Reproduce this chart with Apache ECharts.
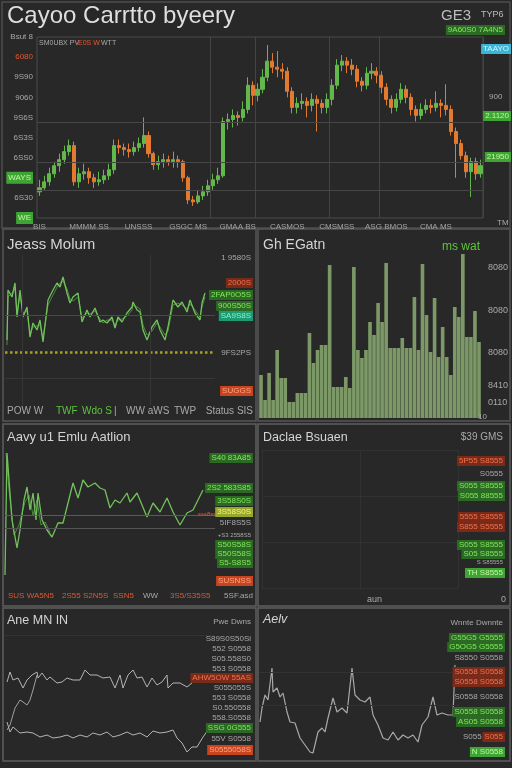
<!DOCTYPE html>
<html><head><meta charset="utf-8">
<script src="https://cdn.jsdelivr.net/npm/echarts/dist/echarts.min.js"></script>
<style>html,body{margin:0;padding:0;background:#282828;}#c{width:512px;height:768px;}</style>
</head><body><div id="c"></div>
<script>
// ---------- DATA ----------
// top candlestick panel: [open, close, low, high]
const candles = [
[26,30,22,38],[30,36,28,42],[36,44,32,50],[44,52,40,56],[52,58,46,64],[58,66,54,72],[66,72,62,78],[72,36,32,76],[36,44,30,50],[44,46,38,54],
[46,40,34,50],[40,36,30,44],[36,38,32,46],[38,42,34,48],[42,48,38,54],[48,72,44,78],[72,70,64,78],[70,68,62,74],[68,66,60,74],[66,70,62,76],
[70,74,66,80],[74,82,70,100],[82,64,60,86],[64,53,48,66],[53,56,48,62],[56,58,50,64],[58,56,52,62],[56,58,50,66],[58,56,50,62],[56,40,36,58],
[40,18,14,42],[18,16,12,22],[16,22,14,28],[22,26,18,32],[26,32,22,38],[32,38,28,44],[38,42,34,50],[42,96,40,100],[96,98,88,104],[98,102,90,108],
[102,100,92,106],[100,108,96,116],[108,132,104,140],[132,122,112,136],[122,128,116,134],[128,140,124,148],[140,156,136,172],[156,150,144,164],[150,148,140,166],[148,146,138,154],
[146,126,120,150],[126,110,104,130],[110,114,104,120],[114,116,108,124],[116,112,100,120],[112,118,106,124],[118,114,86,122],[114,110,104,118],[110,118,104,124],[118,132,112,138],
[132,152,128,158],[152,156,146,162],[156,152,144,160],[152,148,142,158],[148,136,130,152],[136,132,126,140],[132,144,128,150],[144,146,138,154],[146,142,134,150],[142,130,124,146],
[130,118,112,134],[118,110,104,122],[110,118,106,124],[118,128,114,134],[128,120,114,132],[120,108,102,124],[108,102,96,112],[102,108,98,114],[108,112,104,118],[112,110,104,118],
[110,114,106,126],[114,112,100,118],[112,108,102,133],[108,86,82,112],[86,74,40,90],[74,62,58,78],[62,46,40,66],[46,56,21,60],[56,44,38,60],[44,52,40,58]
];
const candleXTicks = ['BIS','MMMM SS','UNSSS','GSGC MS','GMAA BS','CASMOS','CMSMSS','ASG BMOS','CMA MS'];
const priceTicks = ['WE','6S30','WAYS','6SS0','6S3S','9S6S','9060','9S90','6080','Bsut 8'];
const priceLevels = [95, 55, 28];

// "Jeass Molum" line panel
const molumT = [2,3,7,10,12,15,18,22,25,28,32,35,38,43,48,52,55,58,62,65,68,73,77,82,85,90,95,98,102,107,110,113,117,122,127,128,132,135,138,142,147,152,155,160,163,168,173,177,182,185,190,195,197,200];
const molumA = [65,115,108,122,88,115,88,98,68,82,75,85,63,105,115,122,118,128,112,102,108,112,83,95,88,97,83,85,82,88,77,88,83,92,98,103,95,93,75,65,78,85,75,65,78,105,98,103,93,105,92,85,102,112];
const molumB = [60,108,112,116,92,110,92,94,72,78,79,80,67,100,110,118,122,124,116,106,104,108,87,92,91,94,86,82,85,85,80,85,86,89,95,100,98,96,80,70,74,82,78,70,74,100,102,100,96,101,95,88,98,108];
const molumRef = 53;

// "Gh EGatn" bars
const gatnBars = [43,18,45,18,68,40,40,16,16,25,25,25,85,55,68,73,73,153,31,31,31,41,30,151,68,60,68,96,83,115,96,155,70,70,70,80,70,70,121,68,154,103,66,120,61,91,61,43,111,101,164,81,81,107,76];

// "Aavy u1 Emlu Aatlion" line panel
const aavyT = [0,2,7,12,15,19,22,25,28,31,33,37,42,47,53,58,63,68,73,78,83,90,95,100,105,110,115,122,125,132,137,142,148,155,162,168,175,182,188,193,198];
const aavyA = [5,127,60,32,50,80,93,70,87,60,87,60,50,43,57,57,77,97,82,100,93,97,92,90,72,80,77,87,78,87,75,63,77,68,82,68,55,67,70,80,90];
const aavyBT = [1,4,9,14,20,24,28,32,36,40,45];
const aavyB = [127,90,45,55,78,85,65,80,55,58,48];

// "Ane MN IN" lines
const aneTopT = [2,5,8,13,18,22,27,32,33,37,42,45,52,57,62,68,75,80,85,92,98,105,110,115,118,123,128,132,137,142,147,152,157,162,163,168,175,182,187];
const aneTop = [78,88,80,82,72,80,85,88,82,87,80,83,77,78,82,80,80,90,85,85,82,83,72,85,72,85,90,82,83,73,82,75,78,85,72,77,77,73,77];
const aneLowT = [2,5,8,15,22,28,35,42,48,55,62,68,75,82,88,95,102,108,115,122,128,135,142,148,155,162,168,172,177,182,187,192,198,203];
const aneLow = [38,28,33,27,28,27,23,25,22,23,25,22,25,23,27,25,28,23,25,28,25,27,23,29,27,28,30,22,17,8,13,13,23,30];
const aneMidT = [2,5,10,15,18,22,25,28,32];
const aneMid = [30,35,52,60,58,55,60,70,85];

// "Aelv" line
const aelvT = [1,3,6,9,13,14,18,21,24,28,31,36,41,46,51,54,59,63,66,69,74,78,83,88,93,96,101,106,111,114,119,124,129,134,139,144,149,154,159,163,169,174,178,183,189,194,196];
const aelv = [38,52,65,60,92,68,72,63,67,48,38,37,22,15,8,7,28,32,28,42,62,48,52,47,92,65,60,58,63,45,35,22,20,28,20,25,22,25,18,35,43,63,45,47,45,45,95];

// ---------- STYLE / LAYOUT ----------
const priceTickKinds = ['G','n','G','n','n','n','n','n','rt','n'];
const gridCols = [35, 44, 59, 69];
const FONT = 'Liberation Sans';
const K = {
  n:  {color:'#a9a9a9'},
  r:  {color:'#f0734f', backgroundColor:'#7a2a18'},
  R:  {color:'#f8a584', backgroundColor:'#c8441f'},
  g:  {color:'#84e660', backgroundColor:'#2b6a22'},
  G:  {color:'#c4f7a4', backgroundColor:'#3ea534'},
  t:  {color:'#86f3d2', backgroundColor:'#1c9a72'},
  c:  {color:'#d0f7ff', backgroundColor:'#3cb4d6'},
  y:  {color:'#f6f67c', backgroundColor:'#96a82a'},
  gt: {color:'#5cc43c'},
  rt: {color:'#e8552e'}
};
function tagBase(text, pos, top, kind, size) {
  const k = K[kind];
  return Object.assign({text, top, padding:[1,2], backgroundColor:k.backgroundColor||'transparent',
    textStyle:{color:k.color, fontSize:size||8, fontWeight:'normal', fontFamily:FONT}}, pos);
}
const tag  = (text, left, top, kind, size) => tagBase(text, {left}, top, kind, size);
const tagR = (text, right, top, kind, size) => tagBase(text, {right}, top, kind, size);
function head(text, left, top, size, extra) {
  return {text, left, top, padding:0,
    textStyle:Object.assign({color:'#d4d4d4', fontSize:size, fontWeight:'normal', fontFamily:FONT}, extra||{})};
}
const L = 259;   // right edge (x=253) of left-column panels, as css "right"
const RR = 7;    // right edge (x=505) of right-column panels
const titles = [
  head('Cayoo Carrtto byeery', 7, 4, 24, {color:'#dedede'}),
  head('GE3', 441, 8, 15, {color:'#bdbdbd'}),
  head('TYP6', 481, 10, 9, {color:'#bdbdbd'}),
  tagR('9A60S0 7A4N5', RR, 25, 'g', 8),
  tag('SM0UBX PV', 37, 39, 'n', 7), tag('E0S W', 76, 39, 'rt', 7), tag('WTT', 99, 39, 'n', 7),
  tagR('TAAYO', 1, 44, 'c'), tag('900', 487, 92, 'n'),
  tagR('2.1120', 1, 111, 'G'), tagR('21950', 1, 152, 'G'), tag('TM', 495, 218, 'n'),
  // row 2 left
  head('Jeass Molum', 7, 237, 15),
  tagR('1 9580S', L, 253, 'n'), tagR('2000S', L, 278, 'r'), tagR('2FAP0O5S', L, 290, 'g'),
  tagR('900S50S', L, 301, 'g'), tagR('SA9S8S', L, 311, 't'), tagR('9FS2PS', L, 348, 'n'),
  tagR('SUGGS', L, 386, 'R'),
  tag('POW W', 5, 405, 'n', 10), tag('TWF', 54, 405, 'gt', 10), tag('Wdo S', 80, 405, 'gt', 10),
  tag('|', 112, 405, 'n', 10), tag('WW aWS', 124, 405, 'n', 10), tag('TWP', 172, 405, 'n', 10),
  tagR('Status SIS', L - 2, 405, 'n', 10),
  // row 2 right
  head('Gh EGatn', 263, 238, 14),
  tagR('ms wat', 30, 240, 'gt', 12),
  tag('8080', 486, 262, 'n', 9), tag('8080', 486, 305, 'n', 9), tag('8080', 486, 347, 'n', 9),
  tag('8410', 486, 380, 'n', 9), tag('0110', 486, 397, 'n', 9), tag('10', 476, 412, 'n', 8),
  // row 3 left
  head('Aavy u1 Emlu Aatlion', 7, 431, 13),
  tagR('S40 83A85', L, 453, 'g'), tagR('2S2 583S85', L, 483, 'g'), tagR('3S58S0S', L, 496, 'g'),
  tag('sss8ss', 196, 510, 'rt', 6), tagR('3S58S0S', L, 507, 'y'), tagR('5IF8S5S', L, 518, 'n'),
  tagR('+S3 2558S5', L, 531, 'n', 6), tagR('S50S58S', L, 540, 'g'), tagR('S50S58S', L, 549, 'g'),
  tagR('S5-S8S5', L, 558, 'g'), tagR('SUSNSS', L, 576, 'R'),
  tag('SUS WA5N5', 6, 591, 'rt', 8), tag('2S55 S2N5S', 60, 591, 'rt', 8), tag('SSN5', 111, 591, 'rt', 8),
  tag('WW', 141, 591, 'n', 8), tag('3S5/S35S5', 168, 591, 'rt', 8), tagR('5SF.asd', L - 2, 591, 'n', 8),
  // row 3 right
  head('Daclae Bsuaen', 263, 431, 12.5),
  tagR('$39 GMS', RR, 431, 'n', 10),
  tagR('5P55 S8555', RR, 456, 'r'), tagR('S0555', RR, 469, 'n'), tagR('S055 S8555', RR, 481, 'g'),
  tagR('S055 88555', RR, 491, 'g'), tagR('5555 S8555', RR, 512, 'r'), tagR('S855 S5555', RR, 522, 'r'),
  tagR('S055 S8555', RR, 540, 'g'), tagR('S05 S8555', RR, 549, 'g'), tagR('S S85555', RR, 558, 'n', 6),
  tagR('TH S8555', RR, 568, 'G'),
  tag('aun', 365, 594, 'n', 9), tag('0', 499, 594, 'n', 9),
  // row 4 left
  head('Ane MN IN', 7, 614, 12.5),
  tagR('Pwe Dwns', L, 617, 'n'),
  tagR('S89S0S50Si', L, 634, 'n'), tagR('552 S0558', L, 644, 'n'), tagR('S05.558S0', L, 654, 'n'),
  tagR('553 S0558', L, 664, 'n'), tagR('AHW5OW 55AS', L, 673, 'r'),
  tagR('S055055S', L, 683, 'n'), tagR('553 S0558', L, 693, 'n'), tagR('S0.550558', L, 703, 'n'),
  tagR('558.S0558', L, 713, 'n'), tagR('SSG 0G555', L, 723, 'g'), tagR('55V S0558', L, 734, 'n'),
  tagR('S0555058S', L, 745, 'R'),
  // row 4 right
  head('Aelv', 263, 613, 12.5, {fontStyle:'italic'}),
  tagR('Wnnte Dwnnte', RR, 618, 'n'),
  tagR('G55G5 G5555', RR, 633, 'g'), tagR('G5OG5 G5555', RR, 642, 'g'), tagR('S8550 S0558', RR, 653, 'n'),
  tagR('S0558 S0558', RR, 667, 'r'), tagR('S0558 S0558', RR, 677, 'r'), tagR('S0558 S0558', RR, 692, 'n'),
  tagR('S0558 S0558', RR, 707, 'g'), tagR('AS05 S0558', RR, 717, 'g'), tag('S055', 461, 732, 'n'),
  tagR('S055', RR, 732, 'r'), tagR('N S0558', RR, 747, 'G')
];

function frame(x, y, w, h, color, lw) {
  return {type:'rect', silent:true, z:-10, shape:{x, y, width:w, height:h},
    style:{fill:'none', stroke:color, lineWidth:lw}};
}
const frames = [
  frame(2, 2, 508, 226, '#4c4c4c', 1.5),
  frame(3, 229, 253, 192, '#555555', 1.5), frame(258, 229, 252, 192, '#555555', 1.5),
  frame(3, 424, 253, 182, '#5e5e5e', 1.5), frame(258, 424, 252, 182, '#5e5e5e', 1.5),
  frame(3, 608, 253, 153, '#5e5e5e', 1.5), frame(258, 608, 252, 153, '#5e5e5e', 1.5)
];

function lines(items) {
  return {silent:true, symbol:'none', label:{show:false}, animation:false,
    data: items.map(it => Object.assign({}, it.axis === 'x' ? {xAxis: it.v} : {yAxis: it.v},
      {lineStyle:{color:it.c, type:it.type||'solid', width:it.w||1}}))};
}
const pair = (ts, vs) => ts.map((t, i) => [t, vs[i]]);
const hidden = (gi, min, max, type) => ({type:type||'value', gridIndex:gi, min, max, show:false});

const chart = echarts.init(document.getElementById('c'), null, {renderer:'canvas'});
chart.setOption({
  backgroundColor:'#282828',
  animation:false,
  textStyle:{fontFamily:FONT},
  title: titles,
  graphic: frames,
  grid: [
    {left:37, top:37, width:446, height:181, show:true, borderColor:'#4a4a4a', borderWidth:1},
    {left:5, top:255, width:210, height:150},
    {left:259, top:253, width:222, height:165},
    {left:5, top:450, width:210, height:130},
    {left:262, top:450, width:196, height:138},
    {left:5, top:630, width:210, height:130},
    {left:259, top:630, width:200, height:130}
  ],
  xAxis: [
    {type:'category', gridIndex:0, data:candles.map((_, i) => String(i)), boundaryGap:true,
      axisLine:{show:false}, axisTick:{show:false},
      axisLabel:{interval:9, margin:5, color:'#a3a3a3', fontSize:8,
        formatter:(v, i) => candleXTicks[Math.round(i / 10)] || ''},
      splitLine:{show:true, interval:(i) => gridCols.includes(i), lineStyle:{color:'#444444'}}},
    hidden(1, 0, 210),
    {type:'category', gridIndex:2, data:gatnBars.map((_, i) => String(i)), show:false},
    hidden(3, 0, 210),
    {type:'value', gridIndex:4, min:0, max:2, interval:1, axisLine:{show:false}, axisTick:{show:false},
      axisLabel:{show:false}, splitLine:{show:true, lineStyle:{color:'#323232'}}},
    hidden(5, 0, 210),
    hidden(6, 0, 200)
  ],
  yAxis: [
    {type:'value', gridIndex:0, min:0, max:180, interval:20, axisLine:{show:false}, axisTick:{show:false},
      splitLine:{show:false},
      axisLabel:{margin:4, fontSize:8, formatter:(v) => {
          const i = Math.round(v / 20); return '{' + priceTickKinds[i] + '|' + priceTicks[i] + '}'; },
        rich:{
          n:{color:'#a9a9a9', fontSize:8},
          rt:{color:'#e8552e', fontSize:8},
          G:{color:'#c4f7a4', backgroundColor:'#3ea534', padding:[2,2], fontSize:8}
        }}},
    hidden(1, 0, 150),
    hidden(2, 0, 165),
    hidden(3, 0, 130),
    {type:'value', gridIndex:4, min:0, max:3, interval:1, axisLine:{show:false}, axisTick:{show:false},
      axisLabel:{show:false}, splitLine:{show:true, lineStyle:{color:'#323232'}}},
    hidden(5, 0, 130),
    hidden(6, 0, 130)
  ],
  series: [
    {type:'candlestick', xAxisIndex:0, yAxisIndex:0, data:candles, barWidth:'72%',
      itemStyle:{color:'#62b84a', color0:'#e27a30', borderColor:'#62b84a', borderColor0:'#e27a30', borderWidth:1},
      markLine: lines(priceLevels.map(v => ({v, c:'#474747'})))},
    {type:'line', xAxisIndex:1, yAxisIndex:1, data:pair(molumT, molumB), showSymbol:false,
      lineStyle:{color:'#4d8a3e', width:1},
      markLine: lines([
        {v:molumRef, c:'#a9a11e', type:'dotted', w:2.5},
        {v:90, c:'#4a4a4a'}, {v:27, c:'#383838'},
        {axis:'x', v:17, c:'#363636'}, {axis:'x', v:145, c:'#363636'}
      ])},
    {type:'line', xAxisIndex:1, yAxisIndex:1, data:pair(molumT, molumA), showSymbol:false,
      lineStyle:{color:'#72c25c', width:1.3}},
    {type:'bar', xAxisIndex:2, yAxisIndex:2, data:gatnBars, barCategoryGap:'10%',
      itemStyle:{color:'#7c9866'}},
    {type:'line', xAxisIndex:3, yAxisIndex:3, data:pair(aavyBT, aavyB), showSymbol:false,
      lineStyle:{color:'#4d8a3e', width:1},
      markLine: lines([{v:65, c:'#5a5a5a'}, {v:52, c:'#555555'}])},
    {type:'line', xAxisIndex:3, yAxisIndex:3, data:pair(aavyT, aavyA), showSymbol:false,
      lineStyle:{color:'#72c25c', width:1.3}},
    {type:'line', xAxisIndex:5, yAxisIndex:5, data:pair(aneTopT, aneTop), showSymbol:false,
      lineStyle:{color:'#b4b4b4', width:1},
      markLine: lines([{v:125, c:'#333333'}])},
    {type:'line', xAxisIndex:5, yAxisIndex:5, data:pair(aneMidT, aneMid), showSymbol:false,
      lineStyle:{color:'#a0a0a0', width:1}},
    {type:'line', xAxisIndex:5, yAxisIndex:5, data:pair(aneLowT, aneLow), showSymbol:false,
      lineStyle:{color:'#b4b4b4', width:1}},
    {type:'line', xAxisIndex:6, yAxisIndex:6, data:pair(aelvT, aelv), showSymbol:false,
      lineStyle:{color:'#a8a8a8', width:1.2},
      markLine: lines([{v:88, c:'#333333'}, {v:55, c:'#313131'}])}
  ]
});
</script></body></html>
